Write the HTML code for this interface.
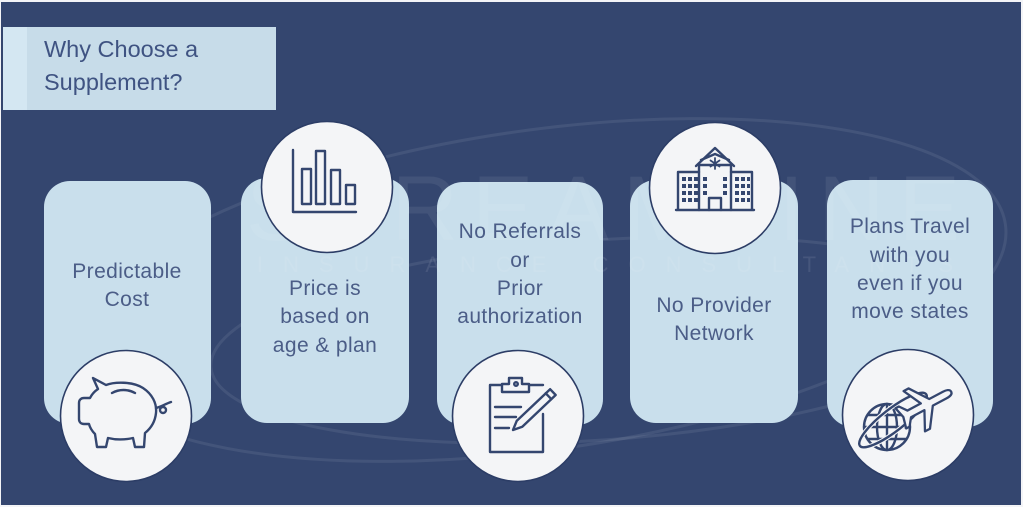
<!DOCTYPE html>
<html><head><meta charset="utf-8"><style>
html,body{margin:0;padding:0;background:#fff;}
body{width:1023px;height:507px;overflow:hidden;}
svg{display:block;}
.t{font-family:"Liberation Sans",sans-serif;font-size:21px;letter-spacing:0.4px;fill:#4b5d87;text-anchor:middle;}
.ic{fill:none;stroke:#34466f;stroke-width:2.4;stroke-linejoin:round;stroke-linecap:round;}
.circ{fill:#f4f5f7;stroke:#2c3d66;stroke-width:1.6;}
.card{fill:#c9dfec;}
</style></head><body>
<svg width="1023" height="507" viewBox="0 0 1023 507" xmlns="http://www.w3.org/2000/svg">
<rect x="0" y="0" width="1023" height="507" fill="#f3f4f7"/>
<rect x="1" y="2" width="1020" height="503" fill="#34466f"/>

<!-- watermark swoosh -->
<g fill="none" stroke="#ffffff" stroke-opacity="0.08" stroke-width="3">
<ellipse cx="540" cy="290" rx="470" ry="160" transform="rotate(-8 540 290)"/>
<ellipse cx="600" cy="340" rx="390" ry="100" transform="rotate(-4 600 340)"/>
</g>

<!-- title -->
<rect x="3" y="27" width="273" height="83" fill="#c7dce9"/>
<rect x="3" y="27" width="24" height="83" fill="#d4e7f2"/>
<text x="44" y="57" style="font-family:'Liberation Sans',sans-serif;font-size:23.5px;fill:#3f5382;">Why Choose a</text>
<text x="44" y="90" style="font-family:'Liberation Sans',sans-serif;font-size:23.5px;fill:#3f5382;">Supplement?</text>

<!-- cards -->
<rect class="card" x="44" y="181" width="167" height="243" rx="26"/>
<rect class="card" x="241" y="178" width="168" height="245" rx="26"/>
<rect class="card" x="437" y="182" width="166" height="243" rx="26"/>
<rect class="card" x="630" y="180" width="168" height="243" rx="26"/>
<rect class="card" x="827" y="180" width="166" height="247" rx="26"/>

<!-- watermark text -->
<text x="610" y="240" text-anchor="middle" style="font-family:'Liberation Sans',sans-serif;font-size:92px;letter-spacing:14px;fill:#ffffff;fill-opacity:0.07;">STREAMLINE</text>
<text x="615" y="272" text-anchor="middle" style="font-family:'Liberation Sans',sans-serif;font-size:22px;letter-spacing:20px;fill:#ffffff;fill-opacity:0.09;">INSURANCE CONSULTANTS</text>

<!-- card texts -->
<text class="t" x="127" y="278">Predictable</text>
<text class="t" x="127" y="306">Cost</text>

<text class="t" x="325" y="295">Price is</text>
<text class="t" x="325" y="323">based on</text>
<text class="t" x="325" y="352">age &amp; plan</text>

<text class="t" x="520" y="238">No Referrals</text>
<text class="t" x="520" y="267">or</text>
<text class="t" x="520" y="295">Prior</text>
<text class="t" x="520" y="323">authorization</text>

<text class="t" x="714" y="312">No Provider</text>
<text class="t" x="714" y="340">Network</text>

<text class="t" x="910" y="233">Plans Travel</text>
<text class="t" x="910" y="262">with you</text>
<text class="t" x="910" y="290">even if you</text>
<text class="t" x="910" y="318">move states</text>

<!-- circles -->
<circle class="circ" cx="126" cy="416" r="65.5"/>
<circle class="circ" cx="327" cy="187" r="65.5"/>
<circle class="circ" cx="518" cy="416" r="65.5"/>
<circle class="circ" cx="715" cy="188" r="65.5"/>
<circle class="circ" cx="908" cy="415" r="65.5"/>

<!-- piggy bank -->
<g class="ic">
<path d="M84 398 L90 398 C92 394 95 391 98 389 L93 378 L106 385 C114 382 132 381 143 388 C152 394 157 403 156 413 C155 423 150 429 145 433 L144 447 L135 447 L133 438 C124 440 116 440 108 438 L106 447 L97 447 L95 434 C92 431 90 428 89 424 L84 424 C81 424 79 422 79 419 L79 403 C79 400 81 398 84 398 Z"/>
<path d="M156 408 C161 407 165 404 171 402"/>
<circle cx="163" cy="410" r="3"/>
<path d="M112 393 C119 389 128 389 135 393"/>
</g>

<!-- bar chart -->
<g class="ic">
<path d="M293 150 L293 212 L356 212"/>
<rect x="302" y="169" width="9" height="35"/>
<rect x="316" y="151" width="9" height="53"/>
<rect x="331" y="170" width="9" height="34"/>
<rect x="346" y="185" width="9" height="19"/>
</g>

<!-- clipboard -->
<g class="ic">
<path d="M502 385 L490 385 L490 452 L543 452 L543 414"/>
<path d="M543 385 L530 385"/>
<path d="M502 392 L502 384 L509 384 L509 378 L522 378 L522 384 L529 384 L529 392 Z"/>
<circle cx="516" cy="384" r="1.8"/>
<path d="M495 407 L521 407 M495 417 L516 417 M495 428 L509 428"/>
<path d="M513 430 L516.7 420.9 L550.1 389.2 L555.7 395 L522.3 426.7 Z" fill="#f4f5f7"/>
<path d="M545.7 393.3 L551.3 399.1"/>
</g>

<!-- hospital -->
<g class="ic" stroke-width="2.2">
<path d="M676 210 L754 210 M678 210 L678 172 L699 172 M731 172 L752 172 L752 210"/>
<path d="M699 210 L699 165 L731 165 L731 210"/>
<path d="M696 166 L715 148 L734 166"/>
<path d="M701 160 L715 154 L729 160"/>
<path d="M709 210 L709 198 L721 198 L721 210"/>
<path d="M715 158 L715 169 M710.5 160.5 L719.5 166.5 M719.5 160.5 L710.5 166.5" stroke-width="1.8"/>
</g>
<g fill="#34466f">
<rect x="682" y="177" width="4" height="4"/><rect x="688" y="177" width="4" height="4"/><rect x="694" y="177" width="4" height="4"/>
<rect x="682" y="184" width="4" height="4"/><rect x="688" y="184" width="4" height="4"/><rect x="694" y="184" width="4" height="4"/>
<rect x="682" y="191" width="4" height="4"/><rect x="688" y="191" width="4" height="4"/><rect x="694" y="191" width="4" height="4"/>
<rect x="682" y="198" width="4" height="4"/><rect x="688" y="198" width="4" height="4"/><rect x="694" y="198" width="4" height="4"/>
<rect x="703" y="177" width="4" height="4"/><rect x="723" y="177" width="4" height="4"/>
<rect x="703" y="184" width="4" height="4"/><rect x="723" y="184" width="4" height="4"/>
<rect x="703" y="191" width="4" height="4"/><rect x="723" y="191" width="4" height="4"/>
<rect x="735" y="177" width="4" height="4"/><rect x="741" y="177" width="4" height="4"/><rect x="747" y="177" width="3" height="4"/>
<rect x="735" y="184" width="4" height="4"/><rect x="741" y="184" width="4" height="4"/><rect x="747" y="184" width="3" height="4"/>
<rect x="735" y="191" width="4" height="4"/><rect x="741" y="191" width="4" height="4"/><rect x="747" y="191" width="3" height="4"/>
<rect x="735" y="198" width="4" height="4"/><rect x="741" y="198" width="4" height="4"/><rect x="747" y="198" width="3" height="4"/>
</g>

<!-- globe + plane -->
<g class="ic" stroke-width="2.2">
<circle cx="887" cy="427" r="23"/>
<ellipse cx="887" cy="427" rx="10" ry="23"/>
<path d="M887 404 L887 450 M864 427 L910 427 M868 415 L906 415 M868 439 L906 439"/>
<ellipse cx="893" cy="420" rx="42" ry="11" transform="rotate(-38 893 420)" stroke-width="4.5" stroke="#f4f5f7"/>
<ellipse cx="893" cy="420" rx="42" ry="11" transform="rotate(-38 893 420)"/>
<g transform="translate(926 405) rotate(-28) scale(0.95)">
<path d="M30 0 C30 -3 26 -4 22 -4 L6 -4 L-8 -24 L-14 -24 L-4 -4 L-20 -4 L-26 -12 L-30 -12 L-27 0 L-30 12 L-26 12 L-20 4 L-4 4 L-14 24 L-8 24 L6 4 L22 4 C26 4 30 3 30 0 Z" fill="#f4f5f7"/>
</g>
</g>
</svg>
</body></html>
